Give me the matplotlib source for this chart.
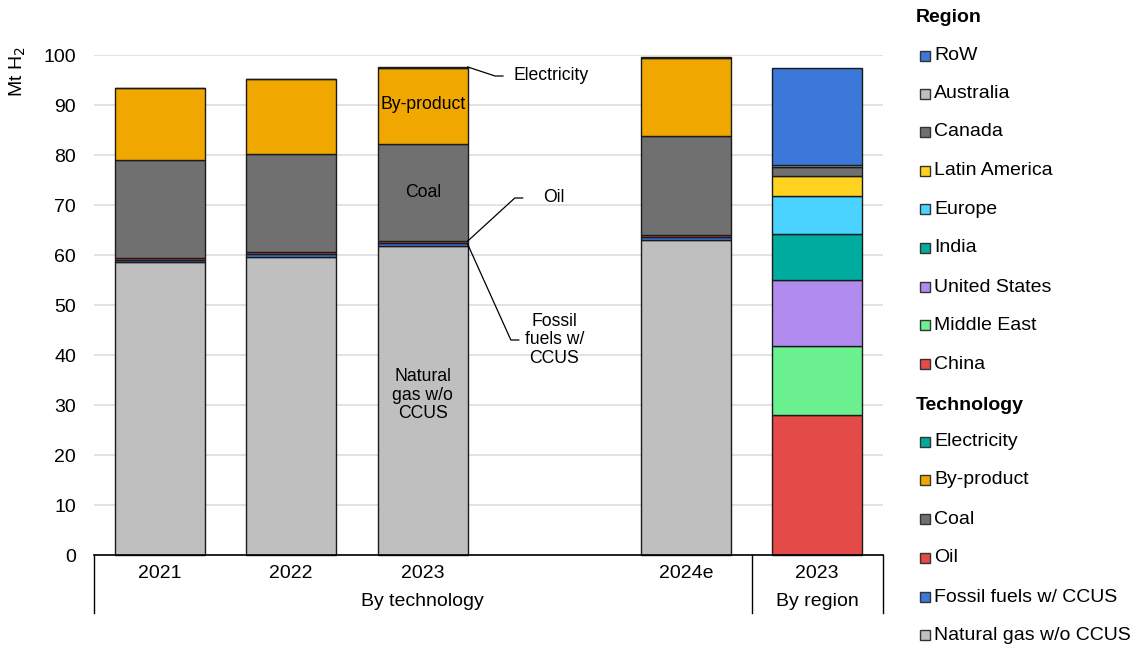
import matplotlib
matplotlib.use("Agg")
import matplotlib.pyplot as plt
from matplotlib.patches import Rectangle
import numpy as np

plt.rcParams['font.family'] = ['Liberation Sans', 'DejaVu Sans']

# ---- data ----
tech_years = ["2021", "2022", "2023", "2024e"]
tech_pos = [0, 1, 2, 4]
natural_gas = [58.6, 59.6, 61.8, 63.0]
fossil_ccus = [0.5, 0.6, 0.6, 0.6]
oil = [0.4, 0.5, 0.4, 0.4]
coal = [19.5, 19.5, 19.4, 19.8]
by_product = [14.4, 15.0, 15.3, 15.6]
electricity = [0.1, 0.1, 0.1, 0.2]

region_names = ["China", "Middle East", "United States", "India", "Europe",
                "Latin America", "Canada", "Australia", "RoW"]
region_values = [28.0, 13.8, 13.2, 9.2, 7.6, 4.0, 1.8, 0.5, 19.3]
region_pos = 5
region_label = "2023"

tech_names = ["Natural gas w/o CCUS", "Fossil fuels w/ CCUS", "Oil", "Coal",
              "By-product", "Electricity"]
tech_colors = ["#BFBFBF", "#3C78D8", "#E34A48", "#6F706F", "#F0A800", "#00A99D"]
region_colors = ["#E34A48", "#6BF08F", "#B28BEE", "#00AC9F", "#4AD3FF",
                 "#FFD320", "#6F706F", "#BFBFBF", "#3C78D8"]

yticks = list(range(0, 101, 10))

FS = 14      # ticks, legend
FA = 12.7    # annotations

# ---- figure ----
fig = plt.figure(figsize=(11.36, 6.48), dpi=100)
W, H = 1136, 648
ax = fig.add_axes([94 / W, 1 - 555 / H, (883 - 94) / W, (555 - 55) / H])

bw = 0.685
tech_series = [natural_gas, fossil_ccus, oil, coal, by_product, electricity]
bottom = np.zeros(len(tech_pos))
for vals, col in zip(tech_series, tech_colors):
    ax.bar(tech_pos, vals, bw, bottom=bottom, color=col, edgecolor="#1a1a1a",
           linewidth=1.0, zorder=3, clip_on=False)
    bottom += np.array(vals)

b = 0.0
for v, col in zip(region_values, region_colors):
    ax.bar([region_pos], [v], bw, bottom=b, color=col, edgecolor="#1a1a1a",
           linewidth=1.0, zorder=3, clip_on=False)
    b += v

ax.set_xlim(-0.5, 5.5)
ax.set_ylim(0, 100)
ax.set_yticks(yticks)
ax.tick_params(axis='y', length=0, labelsize=FS, pad=13)
ax.set_xticks([])
ax.grid(axis='y', color="#DDDDDD", linewidth=1.2, zorder=0)
for s in ["left", "right", "top"]:
    ax.spines[s].set_visible(False)
ax.spines["bottom"].set_color("black")
ax.spines["bottom"].set_linewidth(1.2)
ax.spines["bottom"].set_zorder(4)

fig.text(18 / W, 1 - 72 / H, "Mt H$_2$", rotation=90, ha="center", va="center", fontsize=FS)

# x labels
trans = ax.get_xaxis_transform()
def fy(py):
    return (555 - py) / (555 - 55)
for p, lab in zip(tech_pos, tech_years):
    ax.text(p, fy(573), lab, ha="center", va="center", fontsize=FS, transform=trans)
ax.text(region_pos, fy(573), region_label, ha="center", va="center", fontsize=FS, transform=trans)
ax.text(2.0, fy(601), "By technology", ha="center", va="center", fontsize=FS, transform=trans)
ax.text(region_pos, fy(601), "By region", ha="center", va="center", fontsize=FS, transform=trans)
for xx in [-0.5, 4.5, 5.5]:
    ax.plot([xx, xx], [0, fy(613)], color="black", lw=1.0, transform=trans, clip_on=False)

# annotations on 2023 bar
i23 = 2
cum = np.cumsum([s[i23] for s in tech_series])
ax.text(2, cum[3] + tech_series[4][i23] / 2 + 0.3, "By-product", ha="center", va="center", fontsize=FA, zorder=5)
ax.text(2, cum[2] + tech_series[3][i23] / 2, "Coal", ha="center", va="center", fontsize=FA, zorder=5)
ax.text(2, 32, "Natural\ngas w/o\nCCUS", ha="center", va="center", fontsize=FA, zorder=5, linespacing=1.15)

xr = 2 + bw / 2
ax.plot([xr, 2.55, 2.61], [cum[5], 95.8, 95.8], color="black", lw=0.9, clip_on=False, zorder=5)
ax.text(2.69, 95.8, "Electricity", ha="left", va="center", fontsize=FA)
ax.plot([xr, 2.70, 2.76], [cum[2], 71.4, 71.4], color="black", lw=0.9, clip_on=False, zorder=5)
ax.text(3.0, 71.4, "Oil", ha="center", va="center", fontsize=FA)
ax.plot([xr, 2.67, 2.73], [cum[0] + 0.3, 43, 43], color="black", lw=0.9, clip_on=False, zorder=5)
ax.text(3.0, 43, "Fossil\nfuels w/\nCCUS", ha="center", va="center", fontsize=FA, linespacing=1.15)

# ---- legend ----
def leg_item(py, label, color):
    fig.patches.append(Rectangle((920 / W, 1 - (py + 5) / H), 10 / W, 10 / H,
                                 transform=fig.transFigure, facecolor=color,
                                 edgecolor="#333333", linewidth=1.0))
    fig.text(934 / W, 1 - py / H, label, ha="left", va="center", fontsize=FS)

fig.text(916 / W, 1 - 18 / H, "Region", ha="left", va="center", fontsize=FS, fontweight="bold")
ry = [56, 94, 132, 171, 209, 248, 287, 325, 364]
for py, name, col in zip(ry, region_names[::-1], region_colors[::-1]):
    leg_item(py, name, col)
fig.text(916 / W, 1 - 405 / H, "Technology", ha="left", va="center", fontsize=FS, fontweight="bold")
ty = [442, 480, 519, 558, 597, 635]
for py, name, col in zip(ty, tech_names[::-1], tech_colors[::-1]):
    leg_item(py, name, col)

fig.savefig("out.png", dpi=100)
